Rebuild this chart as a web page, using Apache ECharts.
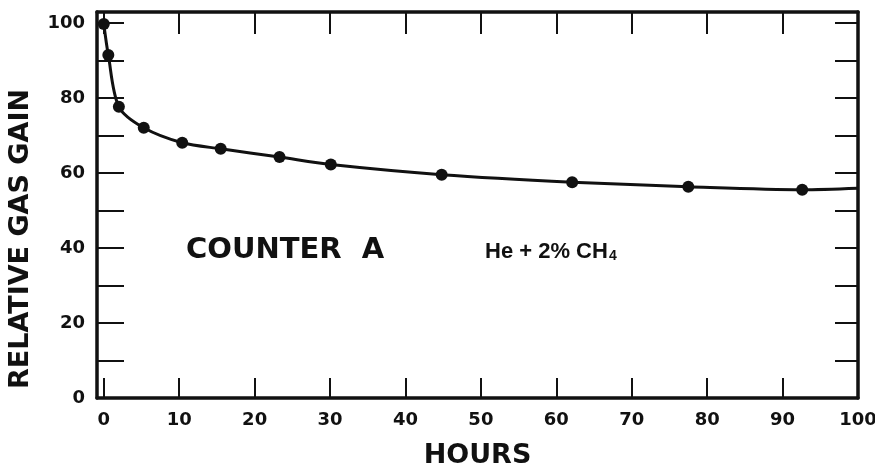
<!DOCTYPE html>
<html>
<head>
<meta charset="utf-8">
<title>Counter A gas gain</title>
<script src="https://cdn.jsdelivr.net/npm/echarts@6/dist/echarts.min.js"></script>
<style>
  html, body { margin: 0; padding: 0; background: #fff; }
  #main { width: 875px; height: 467px; }
</style>
</head>
<body>
<div id="main"></div>
<script>
// readings
var hours = [0, 0.6, 2, 5.3, 10.4, 15.5, 23.3, 30.1, 44.8, 62.1, 77.5, 92.6, 100];
var gain = [99.8, 91.5, 77.7, 72.1, 68.1, 66.5, 64.3, 62.3, 59.6, 57.6, 56.4, 55.6, 56.0];
// the last reading is only where the curve meets the frame, no dot there
var curveEndOnly = [false, false, false, false, false, false, false, false, false, false, false, false, true];

var xTicks = [0, 10, 20, 30, 40, 50, 60, 70, 80, 90, 100];
var yLabels = [0, 20, 40, 60, 80, 100];
var yTicks = [0, 10, 20, 30, 40, 50, 60, 70, 80, 90, 100];

var ink = '#111';
var font = 'DejaVu Sans';

var points = hours.map(function (h, i) {
  var item = { value: [h, gain[i]] };
  if (curveEndOnly[i]) item.symbol = 'none';
  return item;
});

var chart = echarts.init(document.getElementById('main'));

var option = {
  backgroundColor: '#fff',
  animation: false,
  grid: { left: 97, right: 17, top: 12, bottom: 69, outerBoundsMode: 'none' },
  xAxis: [
    {
      type: 'value',
      position: 'bottom',
      min: -0.9,
      max: 100,
      name: 'HOURS',
      nameLocation: 'middle',
      nameGap: 44,
      nameTextStyle: { color: ink, fontFamily: font, fontWeight: 'bold', fontSize: 27 },
      splitLine: { show: false },
      axisLine: { onZero: false, lineStyle: { color: ink, width: 3.5 } },
      axisTick: { inside: true, length: 20, customValues: xTicks, lineStyle: { color: ink, width: 2 } },
      axisLabel: { customValues: xTicks, margin: 13, color: ink, fontFamily: font, fontWeight: 'bold', fontSize: 18 }
    },
    {
      type: 'value',
      position: 'top',
      min: -0.9,
      max: 100,
      splitLine: { show: false },
      axisLine: { onZero: false, lineStyle: { color: ink, width: 3.5 } },
      axisTick: { inside: true, length: 22, customValues: xTicks, lineStyle: { color: ink, width: 2 } },
      axisLabel: { show: false }
    }
  ],
  yAxis: [
    {
      type: 'value',
      position: 'left',
      min: 0,
      max: 103,
      splitLine: { show: false },
      axisLine: { show: true, onZero: false, lineStyle: { color: ink, width: 3.5 } },
      axisTick: { show: true, inside: true, length: 27, customValues: yTicks, lineStyle: { color: ink, width: 2 } },
      axisLabel: { customValues: yLabels, margin: 12, color: ink, fontFamily: font, fontWeight: 'bold', fontSize: 18 }
    },
    {
      type: 'value',
      position: 'right',
      min: 0,
      max: 103,
      splitLine: { show: false },
      axisLine: { show: true, onZero: false, lineStyle: { color: ink, width: 3.5 } },
      axisTick: { show: true, inside: true, length: 23, customValues: yTicks, lineStyle: { color: ink, width: 2 } },
      axisLabel: { show: false }
    }
  ],
  graphic: [
    {
      type: 'text',
      x: 21,
      y: 239,
      rotation: Math.PI / 2,
      style: {
        text: 'RELATIVE GAS GAIN',
        fill: ink,
        font: 'bold 27px "DejaVu Sans"',
        align: 'center',
        verticalAlign: 'middle'
      }
    },
    {
      type: 'text',
      x: 186,
      y: 250,
      style: {
        text: 'COUNTER  A',
        fill: ink,
        font: 'bold 29px "DejaVu Sans"',
        align: 'left',
        verticalAlign: 'middle'
      }
    },
    {
      type: 'text',
      x: 485,
      y: 252,
      style: {
        text: '{m|He + 2% CH}{s|4}',
        align: 'left',
        verticalAlign: 'middle',
        rich: {
          m: { fill: ink, fontFamily: 'Liberation Sans', fontWeight: 'bold', fontSize: 22 },
          s: { fill: ink, fontFamily: 'Liberation Sans', fontWeight: 'bold', fontSize: 14, padding: [8, 0, 0, 1] }
        }
      }
    }
  ],
  series: [
    {
      type: 'line',
      xAxisIndex: 0,
      yAxisIndex: 0,
      data: points,
      smooth: 0.3,
      symbol: 'circle',
      symbolSize: 12,
      itemStyle: { color: ink },
      lineStyle: { color: ink, width: 3 },
      clip: true
    }
  ]
};

chart.setOption(option);
</script>
</body>
</html>
